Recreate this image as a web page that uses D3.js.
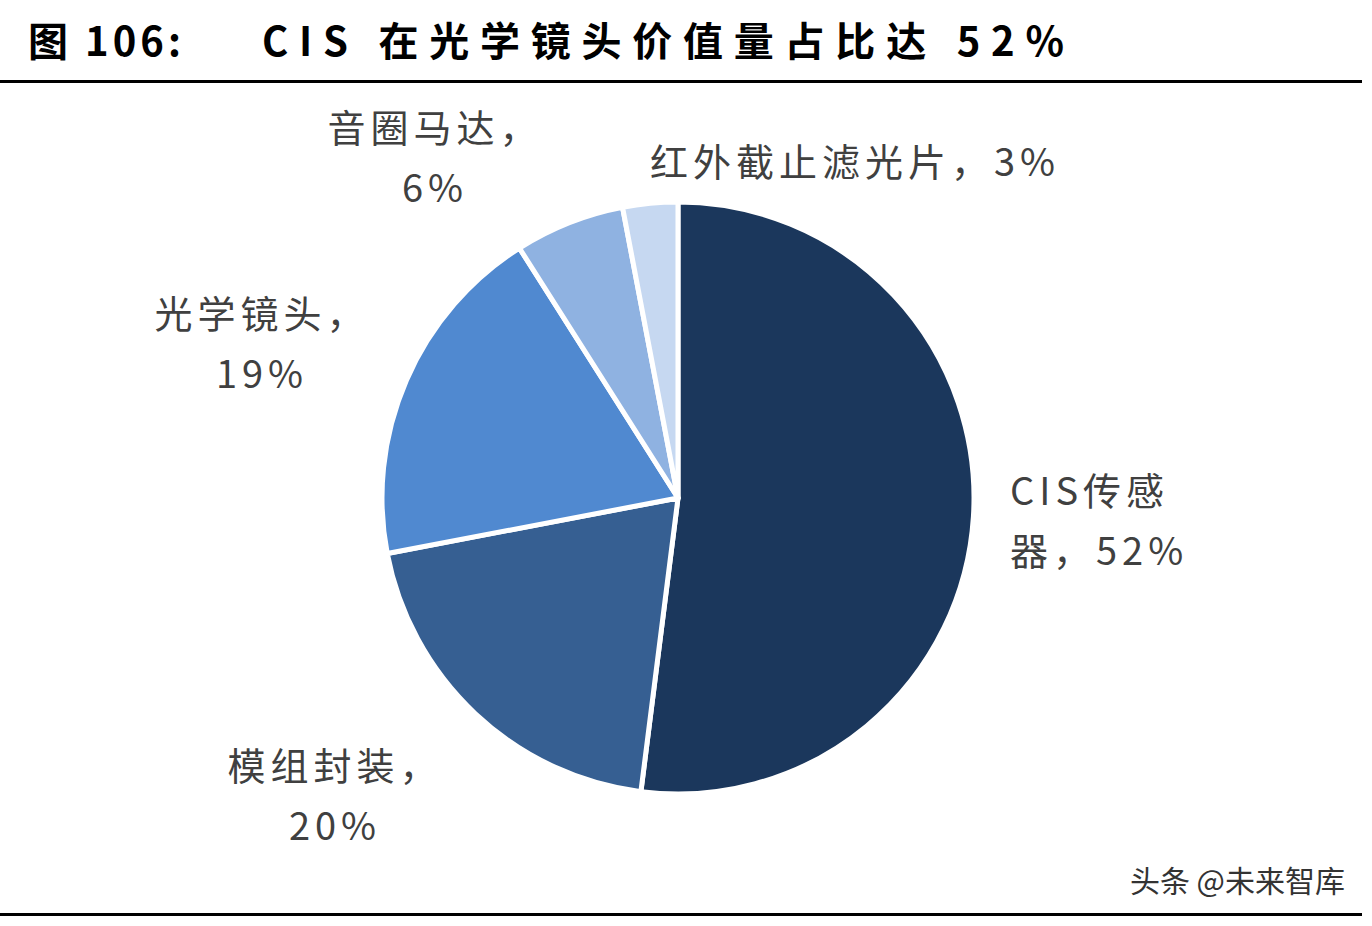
<!DOCTYPE html>
<html><head><meta charset="UTF-8">
<script src="https://cdn.jsdelivr.net/npm/d3@7"></script>
<style>body{margin:0;background:#fff}</style>
</head><body>
<svg width="1372" height="926"></svg>
<script>
const names = ["CIS传感器", "模组封装", "光学镜头", "音圈马达", "红外截止滤光片"]
const values = [52, 20, 19, 6, 3]
const colors = ["#1b375c", "#365f92", "#5089d0", "#8fb2e1", "#c6d8f1"]
// label lines per slice, positioned by hand
const labels = [
    {lines:["CIS传感", "器，52%"], x:1010, y:505, anchor:"start"},
    {lines:["模组封装，", "20%"], x:335, y:780, anchor:"middle"},
    {lines:["光学镜头，", "19%"], x:262, y:328, anchor:"middle"},
    {lines:["音圈马达，", "6%"], x:435, y:142, anchor:"middle"},
    {lines:["红外截止滤光片，3%"], x:855, y:176, anchor:"middle"}
]
const svg = d3.select("svg")
const font = "'Noto Sans CJK SC', sans-serif"

const title = svg.append("g").attr("font-family", font).attr("font-weight", "bold")
    .attr("font-size", 40).attr("fill", "#000").attr("letter-spacing", 4)
title.append("text").attr("x", 28).attr("y", 56).text("图 106:")
title.append("text").attr("x", 262).attr("y", 56).attr("textLength", 806).text("CIS 在光学镜头价值量占比达 52%")
svg.append("rect").attr("x", 0).attr("y", 80).attr("width", 1362).attr("height", 3).attr("fill", "#000")
svg.append("rect").attr("x", 0).attr("y", 913).attr("width", 1362).attr("height", 3).attr("fill", "#000")

const cx = 678, cy = 498, r = 296
const pie = d3.pie().sort(null)(values)
const arc = d3.arc().innerRadius(0).outerRadius(r)
svg.append("g").attr("transform", `translate(${cx},${cy})`)
    .selectAll("path").data(pie).join("path")
    .attr("d", arc).attr("fill", (d, i) => colors[i])
    .attr("stroke", "#fff").attr("stroke-width", 5).attr("stroke-linejoin", "round")

labels.forEach(l => {
    const t = svg.append("text").attr("font-family", font).attr("font-size", 38)
        .attr("fill", "#404040").attr("text-anchor", l.anchor).attr("letter-spacing", 5)
    l.lines.forEach((s, k) => t.append("tspan").attr("x", l.x).attr("y", l.y + k * 60).text(s))
})

svg.append("text").attr("x", 1345).attr("y", 892).attr("text-anchor", "end")
    .attr("font-family", font).attr("font-size", 30).attr("fill", "#333")
    .text("头条 @未来智库")
</script>
</body></html>
